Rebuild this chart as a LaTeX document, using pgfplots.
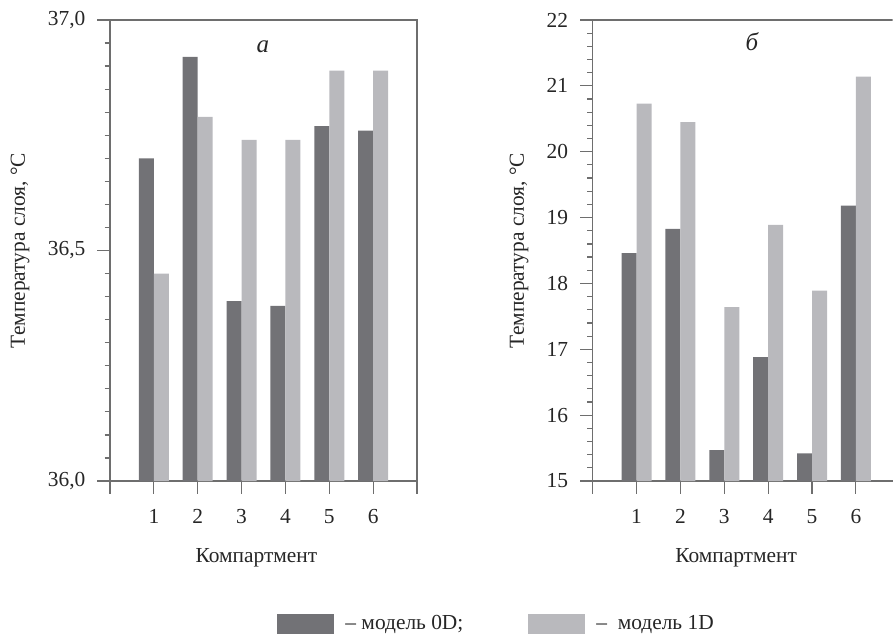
\documentclass[border=0pt]{standalone}
\usepackage{fontspec}
\setmainfont{Liberation Serif}
\usepackage{pgfplots}
\pgfplotsset{compat=1.18}
\definecolor{darkbar}{HTML}{727276}
\definecolor{lightbar}{HTML}{B9B9BD}
\definecolor{axgray}{HTML}{6E6E6E}
\pgfplotsset{
  common/.style={
    scale only axis,
    anchor=south west,
    height=230.5pt,
    ybar=0pt,
    bar width=7.5pt,
    xmin=0,
    xtick={0,1,2,3,4,5,6,7},
    xticklabels={,1,2,3,4,5,6,},
    xtick pos=bottom,
    ytick pos=left,
    tick align=outside,
    major tick length=6.3pt,
    minor tick length=2.7pt,
    axis line style={axgray, line width=0.6pt},
    every tick/.style={axgray, line width=0.6pt},
    ticklabel style={font=\fontsize{10.7}{12}\selectfont, text=black!85},
    xticklabel style={yshift=-4.5pt},
    yticklabel style={xshift=-2.5pt},
    label style={font=\fontsize{10.7}{12}\selectfont, text=black!85},
    /pgf/number format/assume math mode=true,
    /pgf/number format/use comma,
    ylabel={Температура слоя, °C},
    xlabel={Компартмент},
  }
}
\begin{document}
\begin{tikzpicture}
\useasboundingbox (0,0) rectangle (446.5pt,318.5pt);
% Left panel (a)
\begin{axis}[common,
  at={(55pt,78pt)},
  width=153.5pt,
  xmax=7,
  ymin=36, ymax=37,
  ytick={36,36.5,37},
  minor y tick num=9,
  yticklabel style={/pgf/number format/.cd, fixed, fixed zerofill, precision=1, use comma},
  ylabel style={at={(axis description cs:-0.293,0.5)}, anchor=center},
  xlabel style={at={(axis description cs:0.477,-0.167)}, anchor=center},
  legend columns=2,
  legend image code/.code={\fill[#1, draw=none] (0pt,-5pt) rectangle (28.5pt,5pt);},
  legend style={at={(axis description cs:0.544,-0.310)}, anchor=west, draw=none, fill=none,
    inner sep=0pt, font=\fontsize{10.7}{12}\selectfont,
    /tikz/every even column/.append style={column sep=27pt},
    nodes={text=black!85, inner sep=0pt, inner xsep=5.5pt}},
]
\addplot[fill=darkbar, draw=none] coordinates {(1,36.70) (2,36.92) (3,36.39) (4,36.38) (5,36.77) (6,36.76)};
\addplot[fill=lightbar, draw=none] coordinates {(1,36.45) (2,36.79) (3,36.74) (4,36.74) (5,36.89) (6,36.89)};
\legend{– модель 0D;, –\ \ модель 1D}
\node[font=\fontsize{12.5}{14}\selectfont\itshape, text=black!85] at (axis description cs:0.498,0.9425) {а};
\end{axis}
% Right panel (b)
\begin{axis}[common,
  at={(296.35pt,78pt)},
  width=150pt,
  xmax=6.84,
  axis lines*=left,
  axis line style={-},
  ymin=15, ymax=22,
  ytick={15,16,17,18,19,20,21,22},
  minor y tick num=4,
  ylabel style={at={(axis description cs:-0.2457,0.5)}, anchor=center},
  xlabel style={at={(axis description cs:0.478,-0.167)}, anchor=center},
]
\addplot[fill=darkbar, draw=none] coordinates {(1,18.46) (2,18.83) (3,15.47) (4,16.88) (5,15.42) (6,19.18)};
\addplot[fill=lightbar, draw=none] coordinates {(1,20.73) (2,20.45) (3,17.64) (4,18.89) (5,17.89) (6,21.14)};
\draw[axgray, line width=0.6pt] (rel axis cs:0,1) -- (rel axis cs:1,1);
\node[font=\fontsize{12.5}{14}\selectfont\itshape, text=black!85] at (axis description cs:0.531,0.952) {б};
\end{axis}
\end{tikzpicture}
\end{document}
